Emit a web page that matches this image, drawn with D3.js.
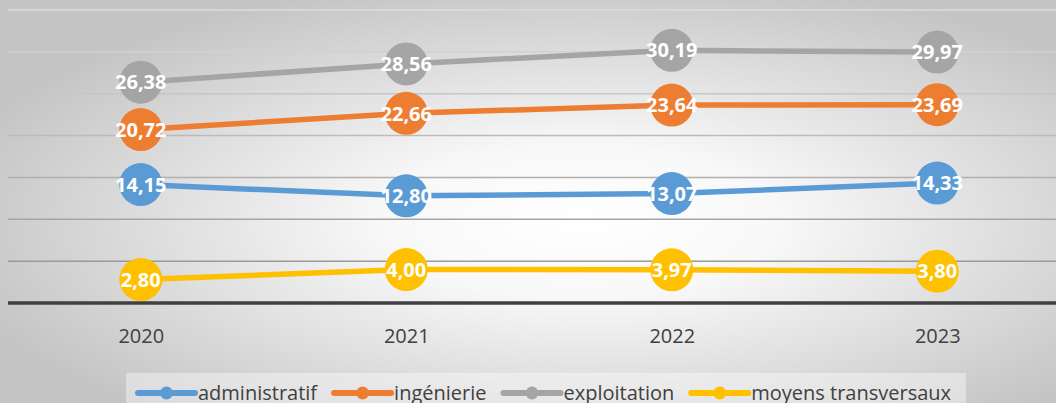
<!DOCTYPE html>
<html>
<head>
<meta charset="utf-8">
<script src="https://cdn.jsdelivr.net/npm/d3@7"></script>
<style>
  html, body { margin: 0; padding: 0; background: #fff; }
  svg { display: block; }
</style>
</head>
<body>
<div id="chart"></div>
<script>
// chart data
const years = ["2020", "2021", "2022", "2023"]
const seriesNames = ["administratif", "ingénierie", "exploitation", "moyens transversaux"]
const administratif = [14.15, 12.80, 13.07, 14.33]
const ingenierie = [20.72, 22.66, 23.64, 23.69]
const exploitation = [26.38, 28.56, 30.19, 29.97]
const moyensTransversaux = [2.80, 4.00, 3.97, 3.80]
const yTicks = [0, 5, 10, 15, 20, 25, 30, 35]

const colors = ["#5B9BD5", "#ED7D31", "#A5A5A5", "#FFC000"]
const series = [administratif, ingenierie, exploitation, moyensTransversaux]
  .map((values, i) => ({ name: seriesNames[i], color: colors[i], values: values }))

const width = 1056
const height = 403
const plot = { left: 8, right: 1070, top: 10, bottom: 303 }

const svg = d3.select("#chart").append("svg")
  .attr("width", width)
  .attr("height", height)

// background gradient
const defs = svg.append("defs")
const grad = defs.append("radialGradient")
  .attr("id", "bg")
  .attr("cx", "0.55").attr("cy", "0.55").attr("r", "0.62")
grad.append("stop").attr("offset", "0").attr("stop-color", "#ffffff")
grad.append("stop").attr("offset", "0.3").attr("stop-color", "#f8f8f8")
grad.append("stop").attr("offset", "1").attr("stop-color", "#c4c4c4")

svg.append("rect")
  .attr("width", width)
  .attr("height", height)
  .attr("fill", "url(#bg)")

// scales
const x = d3.scalePoint()
  .domain(years)
  .range([plot.left, plot.right])
  .padding(0.5)

const y = d3.scaleLinear()
  .domain([0, 35])
  .range([plot.bottom, plot.top])

// gridlines, lighter at the top
const gridColor = d3.scaleLinear().domain([35, 5]).range(["#dcdcdc", "#9a9a9a"])
svg.append("g")
  .selectAll("line")
  .data(yTicks.filter(t => t > 0))
  .enter()
  .append("line")
    .attr("x1", plot.left)
    .attr("x2", plot.right)
    .attr("y1", d => y(d))
    .attr("y2", d => y(d))
    .attr("stroke", d => gridColor(d))
    .attr("stroke-width", 1.5)

// baseline
svg.append("line")
  .attr("x1", plot.left)
  .attr("x2", plot.right)
  .attr("y1", y(0))
  .attr("y2", y(0))
  .attr("stroke", "#404040")
  .attr("stroke-width", 3.5)

// x axis labels
const xAxis = svg.append("g")
  .attr("transform", "translate(0," + y(0) + ")")
  .call(d3.axisBottom(x).tickSize(0).tickPadding(0))
xAxis.select(".domain").remove()
xAxis.selectAll("text")
  .attr("dy", null)
  .attr("y", 40)
  .style("font-family", "'Open Sans', sans-serif")
  .style("font-size", "20px")
  .style("fill", "#404040")

// lines
const line = d3.line()
  .x((d, i) => x(years[i]))
  .y(d => y(d))

svg.append("g")
  .selectAll("path")
  .data(series)
  .enter()
  .append("path")
    .attr("d", d => line(d.values))
    .attr("fill", "none")
    .attr("stroke", d => d.color)
    .attr("stroke-width", 5.5)
    .attr("stroke-linejoin", "round")

// markers and value labels
const groups = svg.append("g")
  .selectAll("g")
  .data(series)
  .enter()
  .append("g")

groups.selectAll("circle")
  .data(d => d.values.map((v, i) => ({ v: v, year: years[i], color: d.color })))
  .enter()
  .append("circle")
    .attr("cx", d => x(d.year))
    .attr("cy", d => y(d.v))
    .attr("r", 21.5)
    .attr("fill", d => d.color)

groups.selectAll("text")
  .data(d => d.values.map((v, i) => ({ v: v, year: years[i] })))
  .enter()
  .append("text")
    .attr("x", d => x(d.year))
    .attr("y", d => y(d.v))
    .attr("dy", "0.36em")
    .attr("text-anchor", "middle")
    .style("font-family", "'Open Sans', sans-serif")
    .style("font-weight", "bold")
    .style("font-size", "20px")
    .style("fill", "#ffffff")
    .text(d => d.v.toFixed(2).replace(".", ","))

// legend
svg.append("rect")
  .attr("x", 126)
  .attr("y", 373)
  .attr("width", 840)
  .attr("height", 40)
  .attr("fill", "#ffffff")
  .attr("fill-opacity", 0.4)

const legend = svg.append("g")
  .selectAll("g")
  .data(series)
  .enter()
  .append("g")

legend.append("line")
  .attr("x1", 0).attr("x2", 57)
  .attr("stroke", d => d.color)
  .attr("stroke-width", 6)
  .attr("stroke-linecap", "round")
legend.append("circle")
  .attr("cx", 28.5)
  .attr("r", 6.5)
  .attr("fill", d => d.color)
legend.append("text")
  .attr("x", 60)
  .attr("dy", "0.36em")
  .style("font-family", "'Open Sans', sans-serif")
  .style("font-size", "20px")
  .style("fill", "#404040")
  .text(d => d.name)

// place the legend items one after another
var legendPos = 138
legend.each(function() {
  d3.select(this).attr("transform", "translate(" + legendPos + ",393)")
  legendPos += 60 + d3.select(this).select("text").node().getComputedTextLength() + 17
})
</script>
</body>
</html>
